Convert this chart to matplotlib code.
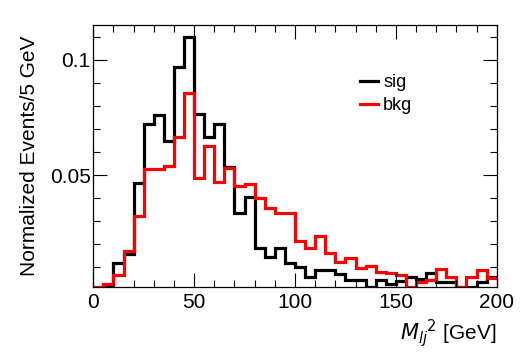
import numpy as np
import matplotlib
matplotlib.use("Agg")
import matplotlib.pyplot as plt
from matplotlib.ticker import MultipleLocator, FixedLocator

plt.rcParams['font.family'] = ['Liberation Sans', 'DejaVu Sans']

bin_width = 5
x_min, x_max = 0, 200

sig = [0.0010, 0.0020, 0.0116, 0.0155, 0.0464, 0.0722, 0.0761, 0.0649, 0.0971, 0.1100,
       0.0764, 0.0664, 0.0722, 0.0536, 0.0333, 0.0406, 0.0181, 0.0142, 0.0181, 0.0116,
       0.0099, 0.0055, 0.0087, 0.0087, 0.0069, 0.0043, 0.0043, 0.0014, 0.0043, 0.0025,
       0.0040, 0.0058, 0.0050, 0.0072, 0.0036, 0.0036, 0.0015, 0.0015, 0.0036, 0.0055]

bkg = [0.0015, 0.0025, 0.0065, 0.0169, 0.0322, 0.0526, 0.0526, 0.0540, 0.0667, 0.0855,
       0.0486, 0.0628, 0.0471, 0.0529, 0.0453, 0.0460, 0.0399, 0.0358, 0.0333, 0.0333,
       0.0214, 0.0181, 0.0235, 0.0160, 0.0123, 0.0138, 0.0097, 0.0104, 0.0079, 0.0072,
       0.0065, 0.0013, 0.0036, 0.0043, 0.0091, 0.0058, 0.0015, 0.0058, 0.0087, 0.0053]

labels = ["sig", "bkg"]
colors = ["black", "#ff0000"]
y_ticks = [0.05, 0.1]
y_tick_labels = ["0.05", "0.1"]
x_ticks = [0, 50, 100, 150, 200]

edges = np.arange(x_min, x_max + bin_width, bin_width)

fig = plt.figure(figsize=(5.23, 3.52), dpi=100)
ax = fig.add_axes([0.1784, 0.1838, 0.9497 - 0.1784, 0.929 - 0.1838])

for vals, lab, col in zip([sig, bkg], labels, colors):
    ax.stairs(vals, edges, color=col, linewidth=2.3, label=lab, baseline=None)

ax.set_xlim(x_min, x_max)
ax.set_ylim(0.0012, 0.1152)

ax.xaxis.set_major_locator(FixedLocator(x_ticks))
ax.xaxis.set_minor_locator(MultipleLocator(10))
ax.yaxis.set_major_locator(FixedLocator(y_ticks))
ax.set_yticklabels(y_tick_labels)
ax.yaxis.set_minor_locator(MultipleLocator(0.01))

ax.tick_params(which='both', direction='in', top=True, right=True, width=0.8)
ax.tick_params(which='major', length=10, labelsize=15)
ax.tick_params(which='minor', length=5)
ax.tick_params(axis='x', pad=4)
ax.tick_params(axis='y', pad=2)
for s in ax.spines.values():
    s.set_linewidth(0.9)

ax.set_ylabel("Normalized Events/5 GeV", fontsize=15, labelpad=8)
ax.set_xlabel(r"$M_{lj}$$^2$ [GeV]", fontsize=15, loc='right')

leg = ax.legend(loc='upper left', bbox_to_anchor=(0.62, 0.875), frameon=False,
                fontsize=13, handlelength=1.0, handletextpad=0.3, labelspacing=0.35)

fig.savefig("out.png", dpi=100)
